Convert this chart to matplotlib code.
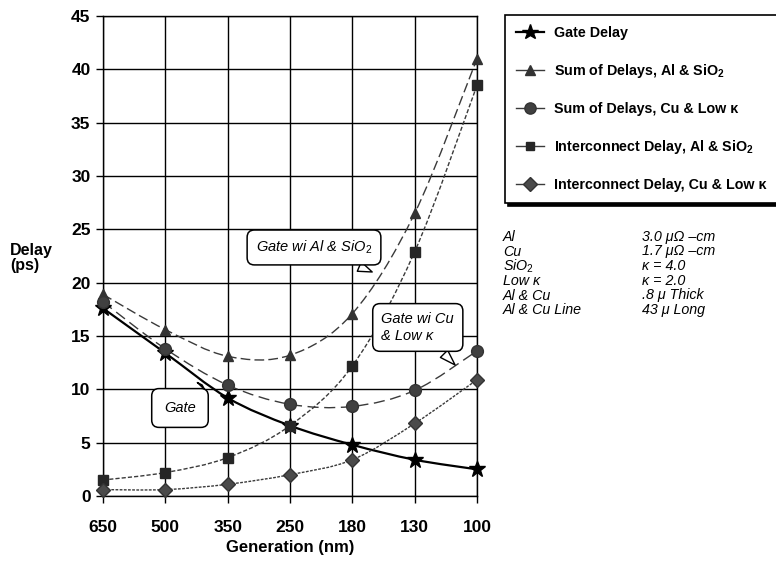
import numpy as np
import matplotlib
matplotlib.use("Agg")
import matplotlib.pyplot as plt
from matplotlib.path import Path
from matplotlib.patches import PathPatch
from matplotlib.lines import Line2D

plt.rcParams['font.family'] = ['Liberation Sans', 'DejaVu Sans']
plt.rcParams['mathtext.fontset'] = 'custom'
plt.rcParams['mathtext.rm'] = 'Liberation Sans'
plt.rcParams['mathtext.it'] = 'Liberation Sans:italic'
plt.rcParams['mathtext.bf'] = 'Liberation Sans:bold'

generations = ["650", "500", "350", "250", "180", "130", "100"]
gate_delay = [17.6, 13.4, 9.2, 6.6, 4.8, 3.4, 2.5]
sum_al_sio2 = [18.9, 15.6, 13.1, 13.2, 17.1, 26.5, 41.0]
sum_cu_lowk = [18.2, 13.8, 10.4, 8.6, 8.4, 9.9, 13.6]
inter_al_sio2 = [1.5, 2.2, 3.6, 6.6, 12.2, 22.9, 38.5]
inter_cu_lowk = [0.6, 0.6, 1.1, 2.0, 3.4, 6.8, 10.9]
y_ticks = [0, 5, 10, 15, 20, 25, 30, 35, 40, 45]

legend_labels = ["Gate Delay",
                 r"Sum of Delays, Al & SiO$_\mathbf{2}$",
                 "Sum of Delays, Cu & Low κ",
                 r"Interconnect Delay, Al & SiO$_\mathbf{2}$",
                 "Interconnect Delay, Cu & Low κ"]
props_left = ["Al", "Cu", r"SiO$_\mathit{2}$", "Low κ", "Al & Cu", "Al & Cu Line"]
props_right = ["3.0 μΩ –cm", "1.7 μΩ –cm", "κ = 4.0", "κ = 2.0", ".8 μ Thick", "43 μ Long"]


def smooth_path(xs, ys):
    pts = np.column_stack([xs, ys]).astype(float)
    n = len(pts)
    verts = [pts[0]]
    codes = [Path.MOVETO]
    for i in range(n - 1):
        p0 = pts[i - 1] if i > 0 else pts[i]
        p1 = pts[i]
        p2 = pts[i + 1]
        p3 = pts[i + 2] if i + 2 < n else pts[i + 1]
        c1 = p1 + (p2 - p0) / 6.0
        c2 = p2 - (p3 - p1) / 6.0
        verts += [c1, c2, p2]
        codes += [Path.CURVE4] * 3
    return Path(verts, codes)


fig = plt.figure(figsize=(7.76, 5.64), dpi=100)
ax = fig.add_axes([103 / 776, 1 - 496 / 564, 374 / 776, 480 / 564])
x = np.arange(len(generations))

series = [
    (gate_delay, dict(color='black', lw=1.6, ls='-'), dict(marker='*', ms=12, mfc='black', mec='black')),
    (sum_al_sio2, dict(color='#3a3a3a', lw=1.0, ls=(0, (7, 3))), dict(marker='^', ms=7, mfc='#333333', mec='#333333')),
    (sum_cu_lowk, dict(color='#3a3a3a', lw=1.0, ls=(0, (8, 4))), dict(marker='o', ms=8.5, mfc='#404040', mec='#333333')),
    (inter_al_sio2, dict(color='#3a3a3a', lw=1.0, ls=(0, (3, 1.5))), dict(marker='s', ms=6.5, mfc='#262626', mec='#262626')),
    (inter_cu_lowk, dict(color='#3a3a3a', lw=1.0, ls=(0, (2, 1))), dict(marker='D', ms=7.5, mfc='#4a4a4a', mec='#333333')),
]

handles = []
for vals, lstyle, mstyle in series:
    patch = PathPatch(smooth_path(x, vals), fill=False, edgecolor=lstyle['color'],
                      lw=lstyle['lw'], linestyle=lstyle['ls'], zorder=3)
    ax.add_patch(patch)
    ax.plot(x, vals, ls='none', clip_on=False, zorder=4, **mstyle)
    hstyle = dict(mstyle)
    hstyle['ms'] = mstyle['ms'] * 0.95
    handles.append(Line2D([], [], color=lstyle['color'], lw=lstyle['lw'], ls='-', **hstyle))

ax.set_xlim(0, len(generations) - 1)
ax.set_ylim(0, 45)
ax.set_xticks(x)
ax.set_xticklabels(generations)
ax.set_yticks(y_ticks)
ax.set_yticklabels([str(v) for v in y_ticks])
ax.grid(True, color='black', lw=1.0)
ax.set_axisbelow(True)
for s in ax.spines.values():
    s.set_color('black')
    s.set_linewidth(1.0)
ax.tick_params(axis='both', length=5, width=1.0, color='black', labelsize=12.5, pad=4)
for lab in ax.get_xticklabels() + ax.get_yticklabels():
    lab.set_fontweight('bold')
ax.tick_params(axis='x', pad=12)
ax.set_xlabel("Generation (nm)", fontsize=12, fontweight='bold', labelpad=4)

fig.text(10 / 776, 1 - 258 / 564, "Delay\n(ps)", fontsize=11.5, fontweight='bold',
         ha='left', va='center', linespacing=0.95)

# Callouts
bubble = dict(boxstyle='round,pad=0.6,rounding_size=0.5', fc='white', ec='black', lw=1.1)
arrow = dict(arrowstyle='wedge,tail_width=0.7,shrink_factor=0.5', fc='white', ec='black', lw=1.0)
ax.annotate(r"Gate wi Al & SiO$_\mathit{2}$", xy=(4.36, 20.9), xytext=(3.385, 23.3),
            ha='center', va='center', fontsize=10.5, style='italic', bbox=bubble,
            arrowprops=arrow, zorder=6)
ax.annotate("Gate wi Cu\n& Low κ", xy=(5.68, 12.1), xytext=(5.05, 15.8),
            ha='center', va='center', fontsize=10.5, style='italic', bbox=bubble,
            arrowprops=arrow, zorder=6, multialignment='left')
ax.annotate("Gate", xy=(1.62, 10.6), xytext=(1.235, 8.25),
            ha='center', va='center', fontsize=10.5, style='italic',
            bbox=dict(boxstyle='round,pad=0.85,rounding_size=0.5', fc='white', ec='black', lw=1.1),
            arrowprops=arrow, zorder=6)

leg = fig.legend(handles, legend_labels, loc='upper left',
                 bbox_to_anchor=(505 / 776, 1 - 15 / 564), borderaxespad=0,
                 prop=dict(size=10.3, weight='bold'), frameon=True, fancybox=False,
                 edgecolor='black', labelspacing=1.55, handlelength=2.0,
                 handletextpad=0.7, borderpad=0.75,
                 shadow=dict(color='black', alpha=1.0))
leg.get_frame().set_linewidth(1.2)

row_y = [237, 251.5, 266, 281, 295.5, 310]
for yy, l, r in zip(row_y, props_left, props_right):
    fig.text(503 / 776, 1 - yy / 564, l, fontsize=10.3, style='italic', ha='left', va='center')
    fig.text(642 / 776, 1 - yy / 564, r, fontsize=10.3, style='italic', ha='left', va='center')

fig.savefig("out.png", dpi=100, facecolor='white')
